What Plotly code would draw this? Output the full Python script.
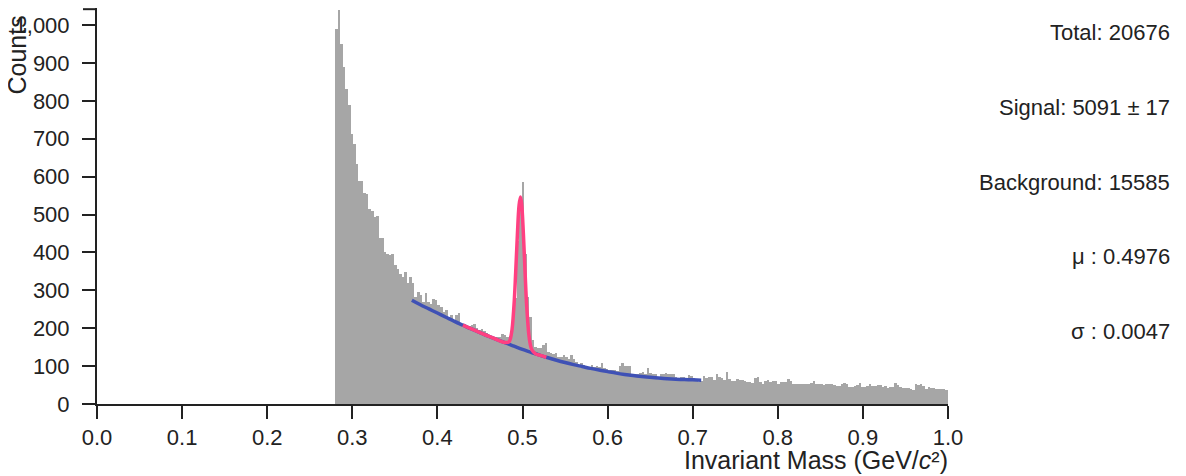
import plotly.graph_objects as go

# ---------------- data ----------------
bin_start = 0.28
bin_width = 0.003
counts = [
    990, 1041, 950, 890, 830, 790, 713, 686, 633, 589,
    589, 558, 554, 515, 510, 493, 495, 439, 439, 401,
    397, 392, 397, 366, 357, 344, 335, 348, 318, 335,
    318, 283, 296, 287, 270, 292, 270, 265, 278, 274,
    261, 256, 243, 248, 230, 234, 221, 236, 240, 212,
    203, 203, 205, 208, 211, 200, 195, 197, 192, 188,
    177, 176, 173, 177, 178, 186, 182, 178, 180, 200,
    280, 430, 540, 585, 396, 282, 230, 168, 151, 147,
    147, 155, 160, 138, 134, 132, 135, 125, 125, 129,
    125, 120, 129, 120, 112, 103, 109, 103, 100, 98,
    103, 98, 100, 97, 109, 94, 92, 89, 89, 91,
    88, 100, 107, 100, 100, 100, 80, 80, 78, 82,
    84, 80, 95, 82, 80, 79, 68, 80, 80, 81,
    79, 79, 78, 72, 68, 71, 72, 68, 76, 74,
    68, 60, 58, 62, 74, 68, 70, 71, 63, 78,
    70, 68, 64, 84, 67, 60, 62, 65, 64, 64,
    62, 58, 57, 56, 68, 72, 58, 54, 62, 64,
    58, 60, 60, 54, 58, 59, 59, 66, 62, 54,
    52, 52, 52, 53, 54, 52, 56, 62, 52, 53,
    52, 50, 54, 54, 52, 50, 48, 47, 52, 56,
    52, 45, 45, 48, 50, 56, 46, 45, 48, 52,
    47, 48, 50, 49, 45, 47, 43, 44, 45, 56,
    50, 45, 43, 41, 41, 40, 37, 52, 50, 52,
    47, 40, 44, 41, 41, 40, 40, 39, 39, 37,
]

# background fit curve
bg_x = [0.37, 0.38, 0.39, 0.40, 0.41, 0.42, 0.43, 0.44, 0.45, 0.46,
        0.47, 0.48, 0.49, 0.50, 0.51, 0.52, 0.53, 0.54, 0.55, 0.56,
        0.57, 0.58, 0.59, 0.60, 0.61, 0.62, 0.63, 0.64, 0.65, 0.66,
        0.67, 0.68, 0.69, 0.70, 0.71]
bg_y = [274, 262, 251, 240, 229, 218, 208, 198, 188.5, 179,
        170, 161, 152.5, 144, 136.5, 129, 122, 115.5, 109.5, 104,
        99, 94, 89.5, 85.5, 81.5, 78, 75, 72.5, 70.3, 68.4,
        66.8, 65.5, 64.5, 63.7, 63]

# signal + background fit curve
sig_x = [0.430, 0.440, 0.450, 0.460, 0.470, 0.478, 0.484, 0.487, 0.490, 0.492,
         0.494, 0.496, 0.4976, 0.499, 0.501, 0.503, 0.505, 0.508, 0.511, 0.515,
         0.520, 0.528]
sig_y = [208, 198, 188.5, 179, 170, 163, 164, 186, 261, 348,
         447, 525, 546, 528, 451, 349, 256, 173, 143, 133,
         129, 123.5]

x_ticks = [0.0, 0.1, 0.2, 0.3, 0.4, 0.5, 0.6, 0.7, 0.8, 0.9, 1.0]
y_ticks = [0, 100, 200, 300, 400, 500, 600, 700, 800, 900, 1000]

stats = ["Total: 20676", "Signal: 5091 ± 17", "Background: 15585",
         "μ : 0.4976", "σ : 0.0047"]

# ---------------- figure ----------------
centers = [bin_start + bin_width * (i + 0.5) for i in range(len(counts))]

FONT = "Liberation Sans, Arial, Helvetica, sans-serif"
AX = "#222222"
TXT = "#222222"

fig = go.Figure()
fig.add_trace(go.Bar(x=centers, y=counts, width=bin_width,
                     marker=dict(color="#a6a6a6", line=dict(width=0)),
                     showlegend=False))
fig.add_trace(go.Scatter(x=bg_x, y=bg_y, mode="lines",
                         line=dict(color="#3F51B5", width=3.5, shape="spline"),
                         showlegend=False))
fig.add_trace(go.Scatter(x=sig_x, y=sig_y, mode="lines",
                         line=dict(color="#FF4081", width=3.5, shape="spline"),
                         showlegend=False))

# page body has an 8px default margin; size the figure to fit the window
W, H = 1178, 468
L, R, T, B = 89, 238, 0, 72
plot_h = H - T - B

annotations = []
for k, s in enumerate(stats):
    ypix = 24.5 + 74.8 * k          # figure-space centre of each line
    annotations.append(dict(
        text=s, xref="paper", yref="paper", x=1, xanchor="right", xshift=224,
        y=1 - (ypix - T) / plot_h, yanchor="middle", showarrow=False,
        font=dict(family=FONT, size=22, color=TXT)))

annotations.append(dict(
    text="Invariant Mass (GeV/<i>c</i>²)", xref="paper", yref="paper",
    x=1, xanchor="right", xshift=2, y=0, yanchor="bottom", yshift=-71.5,
    showarrow=False, font=dict(family=FONT, size=25, color=TXT)))

annotations.append(dict(
    text="Counts", xref="paper", yref="paper", textangle=-90,
    x=0, xanchor="center", xshift=-81, y=1, yanchor="top", yshift=-6,
    showarrow=False, font=dict(family=FONT, size=25, color=TXT)))

fig.update_layout(
    width=W, height=H,
    margin=dict(l=L, r=R, t=T, b=B, pad=0),
    paper_bgcolor="white", plot_bgcolor="white",
    bargap=0,
    font=dict(family=FONT, size=22, color=TXT),
    annotations=annotations,
    shapes=[dict(type="line", xref="paper", yref="paper", xsizemode="pixel",
                 xanchor=0, x0=-14, x1=0, y0=0.997, y1=0.997,
                 line=dict(color=AX, width=2))],
)
fig.update_xaxes(range=[0, 1], tickvals=x_ticks, tickformat=".1f",
                 showline=True, linecolor=AX, linewidth=2,
                 ticks="outside", ticklen=13, tickwidth=2, tickcolor=AX,
                 showgrid=False, zeroline=False,
                 tickfont=dict(family=FONT, size=22, color=TXT))
fig.update_yaxes(range=[0, 1045], tickvals=y_ticks, tickformat=",d",
                 showline=True, linecolor=AX, linewidth=2,
                 ticks="outside", ticklen=13, tickwidth=2, tickcolor=AX,
                 ticklabelstandoff=8,
                 showgrid=False, zeroline=False,
                 tickfont=dict(family=FONT, size=22, color=TXT))

fig.write_html("out.html", config={"displayModeBar": False})
